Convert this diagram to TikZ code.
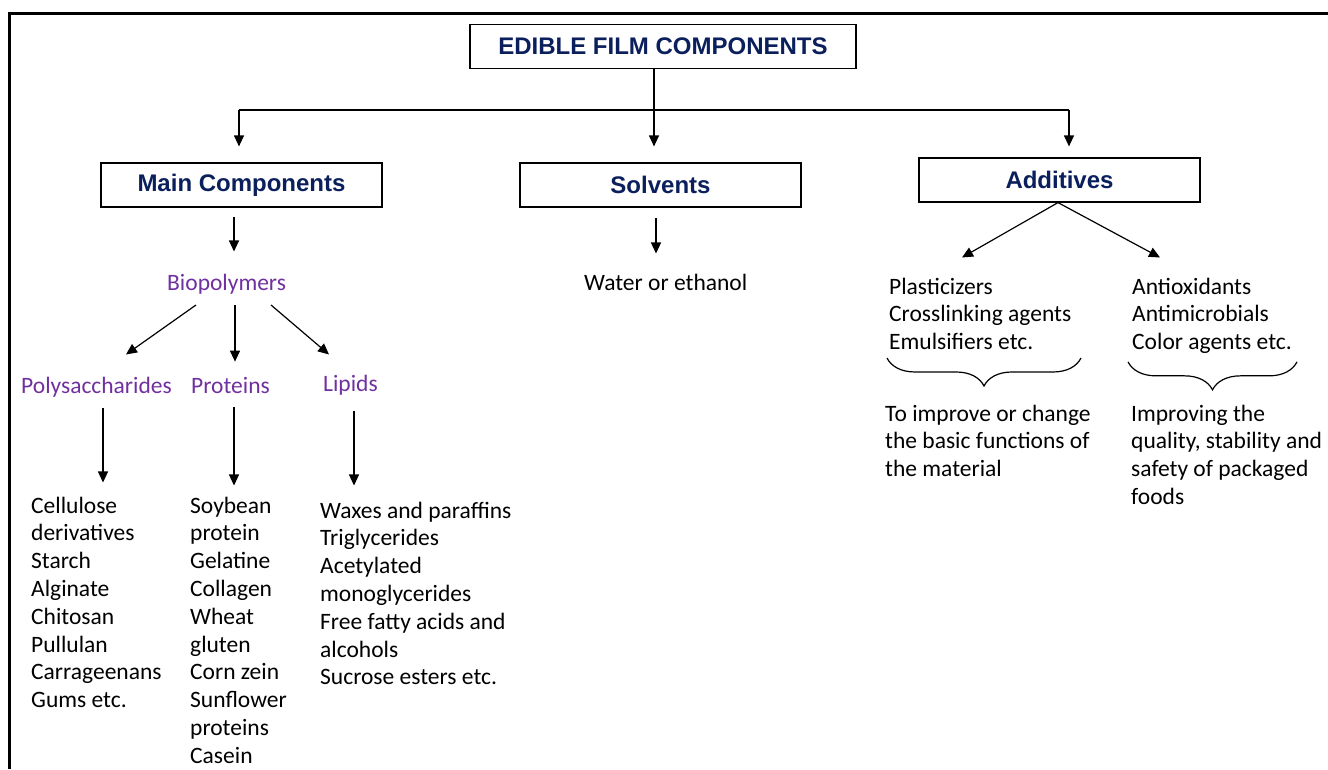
\documentclass[tikz,border=0pt]{standalone}
\usepackage{fontspec}
\setmainfont{Carlito}
\newfontfamily\headfont{Liberation Sans}
\usetikzlibrary{arrows.meta,decorations.pathreplacing}
\definecolor{navy}{HTML}{0A1F5C}
\definecolor{violet}{HTML}{7030A0}
\begin{document}
\begin{tikzpicture}[x=1pt,y=-1pt,
    box/.style={draw,line width=1.2pt,minimum width=281pt,minimum height=44pt,inner sep=0pt,
      text=navy,font=\headfont\bfseries\fontsize{24}{28}\selectfont},
    txt/.style={anchor=base west,align=left,inner sep=0pt,font=\fontsize{23.5}{27.8}\selectfont},
    sub/.style={txt,text=violet},
    arr/.style={-{Triangle[width=10pt,length=11pt]},line width=1.2pt},
    brc/.style={decorate,decoration={brace,mirror,amplitude=28pt},line width=1.2pt}]
    \useasboundingbox (0,0) rectangle (1328,769);
    \draw[line width=3.5pt] (9.5,769) -- (9.5,13.5) -- (1328,13.5);
    \node[box,minimum width=386pt] (top) at (663,46.5) {EDIBLE FILM COMPONENTS};
    \node[box] (main) at (241.5,185) {Main Components};
    \node[box] (solv) at (660.5,185) {Solvents};
    \node[box] (addi) at (1059.5,180) {Additives};
    \coordinate (hub) at (654,110);
    \coordinate (jl) at (239,110);
    \coordinate (jr) at (1069,110);
    \draw[line width=1.2pt] (top.south -| hub) -- (hub);
    \draw[line width=1.2pt] (jl) -- (jr);
    \draw[arr,shorten >=16pt] (jl) -- (jl |- main.north);
    \draw[arr,shorten >=16pt] (hub) -- (hub |- solv.north);
    \draw[arr,shorten >=11pt] (jr) -- (jr |- addi.north);
    % main components (multi-line texts sit on their last baseline)
    \node[sub] (bio) at (167,290) {Biopolymers};
    \node[sub] (poly) at (21,393) {Polysaccharides};
    \node[sub] (prot) at (191,393) {Proteins};
    \node[sub] (lip) at (323,391) {Lipids};
    \node[txt] (polylist) at (31,707.6) {Cellulose\\derivatives\\Starch\\Alginate\\Chitosan\\Pullulan\\Carrageenans\\Gums etc.};
    \node[txt] (protlist) at (190,763.2) {Soybean\\protein\\Gelatine\\Collagen\\Wheat\\gluten\\Corn zein\\Sunflower\\proteins\\Casein};
    \node[txt] (liplist) at (320,684.8) {Waxes and paraffins\\Triglycerides\\Acetylated\\monoglycerides\\Free fatty acids and\\alcohols\\Sucrose esters etc.};
    \draw[arr] ([xshift=-7.5pt,yshift=-9pt]main.south) -- ([xshift=67pt,yshift=22pt]bio.north west);
    \draw[arr] ([xshift=29pt,yshift=-11pt]bio.south west) -- ([xshift=105pt,yshift=22pt]poly.north west);
    \draw[arr] ([xshift=68pt,yshift=-11pt]bio.south west) -- ([xshift=44pt,yshift=15pt]prot.north west);
    \draw[arr] ([xshift=104pt,yshift=-11pt]bio.south west) -- ([xshift=6pt,yshift=20pt]lip.north west);
    \draw[arr] ([xshift=82pt,yshift=-11pt]poly.south west) -- ([xshift=72pt,yshift=14pt]polylist.north west);
    \draw[arr] ([xshift=43pt,yshift=-14pt]prot.south west) -- ([xshift=44pt,yshift=11pt]protlist.north west);
    \draw[arr] ([xshift=31pt,yshift=-16pt]lip.south west) -- ([xshift=34pt,yshift=16pt]liplist.north west);
    % solvents
    \node[txt] (water) at (584,290) {Water or ethanol};
    \draw[arr] ([xshift=-4.5pt,yshift=-10pt]solv.south) -- ([xshift=72pt,yshift=20pt]water.north west);
    % additives
    \node[txt] (plast) at (889,349.6) {Plasticizers\\Crosslinking agents\\Emulsifiers etc.};
    \node[txt] (anti) at (1132,349.6) {Antioxidants\\Antimicrobials\\Color agents etc.};
    \node[txt] (plastuse) at (885,476.6) {To improve or change\\the basic functions of\\the material};
    \node[txt] (antiuse) at (1131,504.4) {Improving the\\quality, stability and\\safety of packaged\\foods};
    \draw[arr] ([xshift=-1.5pt]addi.south) -- ([xshift=73pt,yshift=20pt]plast.north west);
    \draw[arr] ([xshift=-1.5pt]addi.south) -- ([xshift=28pt,yshift=20pt]anti.north west);
    \draw[brc] ([xshift=-2pt,yshift=-8pt]plast.south west) -- ([xshift=192pt,yshift=-8pt]plast.south west);
    \draw[brc] ([xshift=-4pt,yshift=-8pt]anti.south west) -- ([xshift=165pt,yshift=-8pt]anti.south west);
\end{tikzpicture}
\end{document}
